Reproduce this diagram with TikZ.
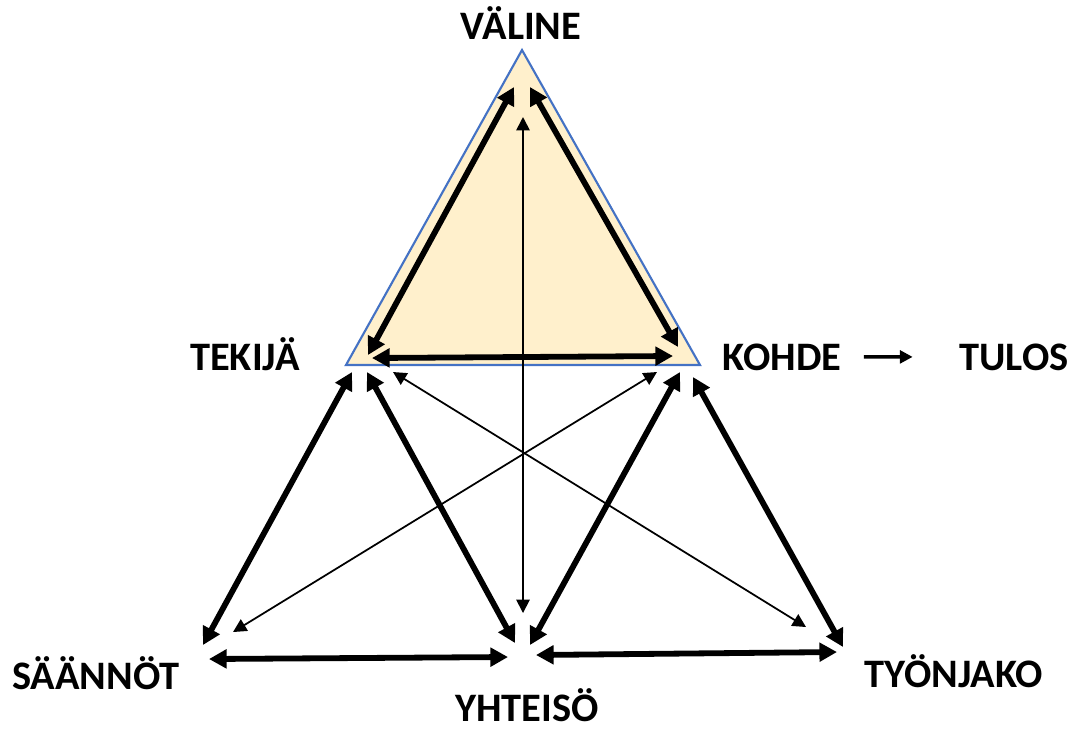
\documentclass[tikz,border=0pt]{standalone}
\usepackage{fontspec}
\setmainfont{Carlito}
\usetikzlibrary{arrows.meta}
\definecolor{toolfill}{HTML}{FFF0CC}
\definecolor{tooledge}{HTML}{4472C4}
\tikzset{
    corner label/.style={font=\bfseries\fontsize{11.5}{13}\selectfont, inner sep=0pt, anchor=base},
    strong link/.style={{Triangle[length=5pt,width=5.2pt]}-{Triangle[length=5pt,width=5.2pt]}, line width=1.65pt},
    weak link/.style={{Triangle[length=3.8pt,width=3.8pt]}-{Triangle[length=3.8pt,width=3.8pt]}, line width=0.5pt},
    result link/.style={-{Triangle[length=3.6pt,width=3.6pt]}, line width=1pt},
}

\begin{document}
\begin{tikzpicture}[x=0.01cm, y=-0.01cm]
    \useasboundingbox (0,0) rectangle (1076,729);
    % the tool triangle
    \coordinate (apex) at (522,50);
    \coordinate (baseL) at (346,365);
    \coordinate (baseR) at (700,365);
    \filldraw[fill=toolfill, draw=tooledge, line width=0.6pt] (apex) -- (baseL) -- (baseR) -- cycle;
    % labels
    \node[corner label] (valine) at (521,39) {VÄLINE};
    \node[corner label] (tekija) at (245,370) {TEKIJÄ};
    \node[corner label] (kohde) at (782,370) {KOHDE};
    \node[corner label] (tulos) at (1014,370) {TULOS};
    \node[corner label] (saannot) at (96,689) {SÄÄNNÖT};
    \node[corner label] (yhteiso) at (527,721) {YHTEISÖ};
    \node[corner label] (tyonjako) at (954,687) {TYÖNJAKO};
    % arrow ends
    \foreach \name/\x/\y in {tv/368/355, vt/514/87, vk/530/87, kv/678/347,
                             tk/372/358, kt/673/356, vy/523/117, yv/523/613,
                             ts/352/372, st/203/645, ty/367/372, yt/515/643,
                             tj/393/372, jt/806/627, sk/233/632, ks/657/372,
                             ky/680/372, yk/530/645, kj/693/377, jk/843/647,
                             sy/209/659, ys/508/657, yj/536/655, jy/837/652} {
        \coordinate (\name) at (\x,\y);
    }
    \foreach \a/\b in {tv/vt, vk/kv, tk/kt, ts/st, ty/yt, ky/yk, kj/jk, sy/ys, yj/jy} {
        \draw[strong link] (\a) -- (\b);
    }
    \foreach \a/\b in {vy/yv, tj/jt, sk/ks} {
        \draw[weak link] (\a) -- (\b);
    }
    \draw[result link, shorten <=0.22cm, shorten >=0.46cm] (kohde.east) -- (tulos.west);
\end{tikzpicture}
\end{document}
